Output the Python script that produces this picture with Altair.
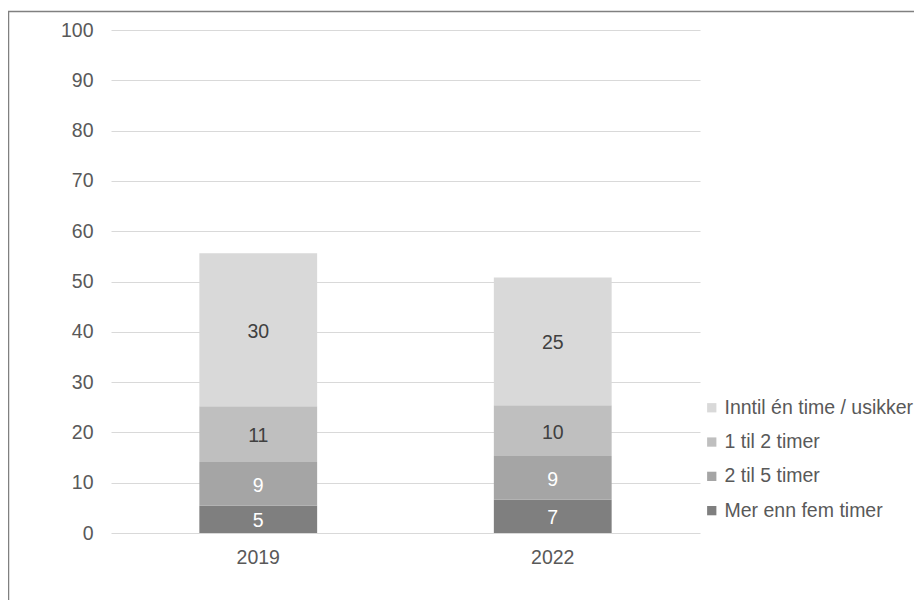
import altair as alt
import pandas as pd

years = ["2019", "2022"]
categories = ["Mer enn fem timer", "2 til 5 timer", "1 til 2 timer", "Inntil én time / usikker"]
values_2019 = [5.4, 8.7, 11.1, 30.4]
values_2022 = [6.6, 8.7, 10.1, 25.4]
colors = ["#7f7f7f", "#a5a5a5", "#bfbfbf", "#d9d9d9"]

rows = []
for i, c in enumerate(categories):
    rows.append({"year": "2019", "cat": c, "order": i, "value": values_2019[i]})
    rows.append({"year": "2022", "cat": c, "order": i, "value": values_2022[i]})
df = pd.DataFrame(rows)

FONT = "Liberation Sans"
FS = 19.5
W, H = 589, 503

base = alt.Chart(df)

bars = base.mark_bar().encode(
    x=alt.X("year:N", title=None,
            scale=alt.Scale(paddingInner=0.6, paddingOuter=0.3),
            axis=alt.Axis(labelAngle=0, labelPadding=15, ticks=False, domain=False, grid=False,
                          labelFont=FONT, labelFontSize=FS, labelColor="#595959")),
    y=alt.Y("value:Q", title=None, stack="zero",
            scale=alt.Scale(domain=[0, 100], nice=False),
            axis=alt.Axis(values=list(range(0, 101, 10)), ticks=False, domain=False,
                          labelPadding=18, gridColor="#d9d9d9", gridWidth=1,
                          labelFont=FONT, labelFontSize=FS, labelColor="#595959")),
    color=alt.Color("cat:N", title=None,
                    scale=alt.Scale(domain=categories[::-1], range=colors[::-1]),
                    legend=alt.Legend(orient="none", legendX=591, legendY=368,
                                      symbolType="square", symbolSize=86,
                                      symbolStrokeWidth=0, rowPadding=13.3,
                                      labelFont=FONT, labelFontSize=FS,
                                      labelColor="#595959", labelOffset=3,
                                      labelLimit=300)),
    order=alt.Order("order:Q", sort="ascending"),
)

labels = base.transform_stack(
    stack="value", groupby=["year"], as_=["y0", "y1"],
    sort=[alt.SortField("order", order="ascending")]
).transform_calculate(
    mid="(datum.y0 + datum.y1) / 2"
).mark_text(font=FONT, fontSize=FS, baseline="middle", dy=2).encode(
    x="year:N",
    y="mid:Q",
    text=alt.Text("value:Q", format=".0f"),
    color=alt.condition("datum.order < 2", alt.value("#ffffff"), alt.value("#404040")),
)

border = alt.Chart(pd.DataFrame({"a": [0]})).mark_rect(
    fill=None, stroke="#808080", strokeWidth=1.5
).encode(
    x=alt.value(-102.5), y=alt.value(-18.5), x2=alt.value(830), y2=alt.value(600)
)

chart = alt.layer(bars, labels, border).properties(
    width=W, height=H,
    background="white",
    autosize=alt.AutoSizeParams(type="none"),
    padding={"left": 103, "top": 22, "right": 214, "bottom": 67},
).configure_view(strokeWidth=0, stroke="transparent")

chart.save("out.html", embed_options={"renderer": "svg", "actions": False})
